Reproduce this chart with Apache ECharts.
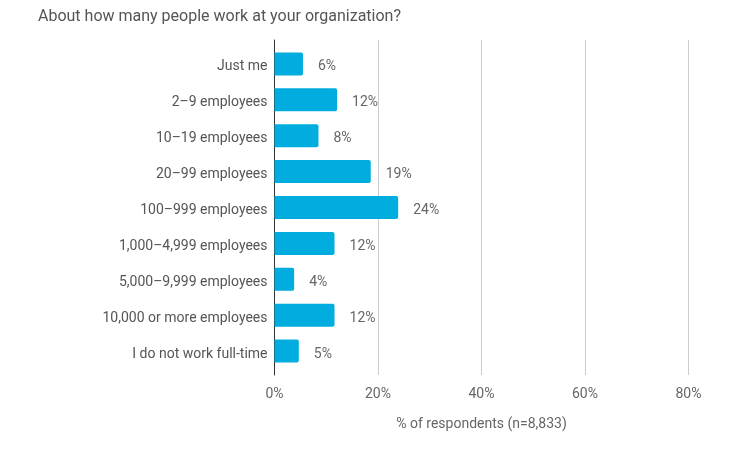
<!DOCTYPE html>
<html><head><meta charset="utf-8">
<script src="https://cdn.jsdelivr.net/npm/echarts@6/dist/echarts.min.js"></script>
<style>html,body{margin:0;padding:0;background:#fff}#c{width:751px;height:455px}</style>
</head><body><div id="c"></div>
<script>
const categories = ["Just me","2–9 employees","10–19 employees","20–99 employees","100–999 employees","1,000–4,999 employees","5,000–9,999 employees","10,000 or more employees","I do not work full-time"];
const values = [5.5, 12.1, 8.5, 18.6, 23.9, 11.6, 3.8, 11.6, 4.7];
const valueLabels = ["6%","12%","8%","19%","24%","12%","4%","12%","5%"];
const xTicks = [0, 20, 40, 60, 80];

const font = 'Roboto, "Noto Sans", sans-serif';
const chart = echarts.init(document.getElementById('c'));
chart.setOption({
  animation: false,
  title: {
    text: 'About how many people work at your organization?',
    left: 33, top: 4,
    textStyle: {fontFamily: font, fontSize: 16, fontWeight: 'normal', color: '#555'}
  },
  grid: [
    {left: 274.5, right: 751 - 688.5, top: 40, bottom: 455 - 375},
    {left: 274.5, right: 751 - 688.5, top: 46, bottom: 455 - 369}
  ],
  xAxis: [
    {
      gridIndex: 0, type: 'value', min: xTicks[0], max: xTicks[xTicks.length - 1], interval: 20,
      axisLine: {show: false}, axisTick: {show: false},
      splitLine: {lineStyle: {color: '#ccc', width: 1}},
      axisLabel: {formatter: v => v + '%', color: '#666', fontFamily: font, fontSize: 14, margin: 12},
      name: '% of respondents (n=8,833)', nameLocation: 'middle', nameGap: 42,
      nameTextStyle: {color: '#666', fontFamily: font, fontSize: 14}
    },
    {
      gridIndex: 1, type: 'value', min: xTicks[0], max: xTicks[xTicks.length - 1],
      show: false
    }
  ],
  yAxis: [
    {
      gridIndex: 0, type: 'value', axisLabel: {show: false}, splitLine: {show: false},
      axisTick: {show: false},
      axisLine: {show: true, lineStyle: {color: '#333', width: 1}}
    },
    {
      gridIndex: 1, type: 'category', data: categories, inverse: true,
      axisLine: {show: false}, axisTick: {show: false},
      axisLabel: {
        margin: 7,
        formatter: v => '{a|' + v + '}',
        rich: {a: {color: '#555', fontFamily: font, fontSize: 14, padding: [6, 0, 0, 0]}}
      }
    }
  ],
  series: [{
    type: 'bar', xAxisIndex: 1, yAxisIndex: 1,
    data: values, barWidth: 23,
    itemStyle: {color: '#00ADDE', borderRadius: [0, 2, 2, 0]},
    label: {
      show: true, position: 'right', distance: 15,
      formatter: p => '{a|' + valueLabels[p.dataIndex] + '}',
      rich: {a: {color: '#666', fontFamily: font, fontSize: 14, padding: [6, 0, 0, 0]}}
    }
  }]
});
</script></body></html>
